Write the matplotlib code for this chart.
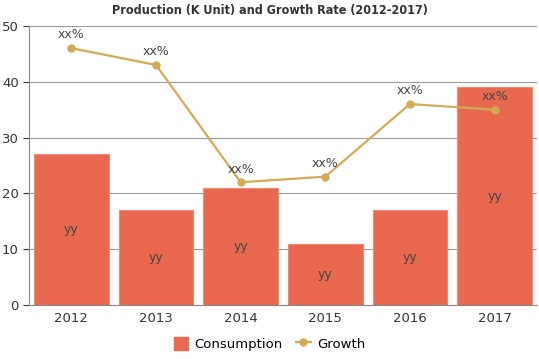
import matplotlib
matplotlib.use('Agg')
import matplotlib.pyplot as plt
from matplotlib.patches import Patch
from matplotlib.lines import Line2D
import numpy as np

years = ['2012', '2013', '2014', '2015', '2016', '2017']
consumption = [27, 17, 21, 11, 17, 39]
growth = [46, 43, 22, 23, 36, 35]
bar_labels = ['yy'] * 6
point_labels = ['xx%'] * 6

BAR_COLOR = '#E8694F'
LINE_COLOR = '#D4AA55'

fig = plt.figure(figsize=(5.39, 3.59), dpi=100)
ax = fig.add_axes([0.054, 0.150, 0.942, 0.778])

x = np.arange(len(years))
ax.bar(x, consumption, width=0.88, color=BAR_COLOR, edgecolor='#F08A74',
       linewidth=0.8, zorder=2)
ax.plot(x, growth, color=LINE_COLOR, marker='o', markersize=5, linewidth=1.6,
        zorder=3)

for i in range(len(x)):
    ax.text(x[i], consumption[i] / 2, bar_labels[i], ha='center', va='center',
            fontsize=9, color='#444444', zorder=4)
    ax.text(x[i], growth[i] + 1.2, point_labels[i], ha='center', va='bottom',
            fontsize=9, color='#444444', zorder=4)

ax.set_xlim(-0.5, len(years) - 0.5)
ax.set_ylim(0, 50)
ax.set_yticks(range(0, 51, 10))
ax.set_xticks(x)
ax.set_xticklabels(years)
ax.tick_params(axis='both', labelsize=9.5, colors='#333333', length=4)
ax.tick_params(axis='x', length=0, pad=5)
ax.grid(axis='y', color='#999999', linewidth=0.8, zorder=0)
ax.set_axisbelow(True)
for s in ['top', 'right']:
    ax.spines[s].set_visible(False)
ax.spines['left'].set_color('#888888')
ax.spines['bottom'].set_color('#888888')

# condensed heavy title
fig.suptitle('Production (K Unit) and Growth Rate (2012-2017)', x=0.5, y=0.99,
             fontsize=9, fontweight='heavy', color='#333333',
             family=['DejaVu Sans'], fontstretch='condensed')

handles = [Patch(facecolor=BAR_COLOR, edgecolor=BAR_COLOR),
           Line2D([0], [0], color=LINE_COLOR, marker='o', markersize=5, linewidth=1.6)]
fig.legend(handles, ['Consumption', 'Growth'], loc='lower center',
           bbox_to_anchor=(0.5, -0.01), ncol=2, frameon=False, fontsize=9.5,
           handlelength=1.1, handleheight=1.1, columnspacing=1.0, handletextpad=0.5)

fig.savefig('out.png', dpi=100)
